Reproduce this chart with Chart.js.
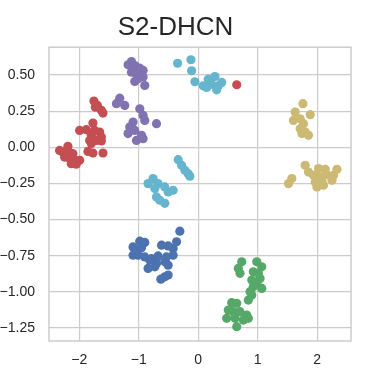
<!DOCTYPE html>
<html>
<head>
<meta charset="utf-8">
<script src="https://cdn.jsdelivr.net/npm/chart.js@4"></script>
<style>
  html, body { margin: 0; padding: 0; background: #fff; }
  #wrap { width: 390px; height: 390px; }
</style>
</head>
<body>
<div id="wrap"><canvas id="chart" width="390" height="390"></canvas></div>
<script>
// points, [x, y]
var bluePts = [
  [-0.309, -0.580], [-0.364, -0.654], [-0.983, -0.649], [-0.899, -0.658], [-1.096, -0.689],
  [-0.954, -0.695], [-0.617, -0.677], [-0.506, -0.682], [-0.422, -0.700], [-1.096, -0.746],
  [-1.012, -0.746], [-0.899, -0.758], [-0.786, -0.769], [-0.675, -0.751], [-0.533, -0.758],
  [-0.422, -0.746], [-0.562, -0.792], [-0.702, -0.803], [-0.843, -0.838], [-0.506, -0.815],
  [-0.730, -0.827], [-0.562, -0.896], [-0.506, -0.884], [-0.629, -0.912], [-0.815, -0.780],
  [-1.012, -0.711]
];
var greenPts = [
  [0.732, -0.792], [0.675, -0.838], [0.703, -0.872], [0.985, -0.792], [1.069, -0.827],
  [0.927, -0.861], [1.012, -0.872], [0.901, -0.918], [1.040, -0.907], [0.985, -0.941],
  [1.069, -0.976], [0.927, -0.965], [0.872, -0.999], [0.843, -1.057], [0.901, -1.022],
  [0.563, -1.075], [0.648, -1.079], [0.506, -1.126], [0.590, -1.137], [0.703, -1.137],
  [0.816, -1.160], [0.479, -1.183], [0.619, -1.183], [0.759, -1.195], [0.843, -1.183],
  [0.648, -1.241]
];
var redPts = [
  [-1.754, 0.320], [-1.696, 0.290], [-1.730, 0.278], [-1.629, 0.256], [-1.602, 0.237],
  [-1.771, 0.168], [-1.995, 0.117], [-1.882, 0.122], [-1.742, 0.117], [-1.658, 0.106],
  [-1.798, 0.083], [-1.629, 0.071], [-1.826, 0.048], [-1.713, 0.048], [-1.629, 0.044],
  [-1.798, 0.026], [-1.855, -0.028], [-1.771, -0.039], [-1.602, -0.039], [-2.192, 0.007],
  [-2.277, -0.032], [-2.192, -0.021], [-2.108, -0.044], [-2.248, -0.067], [-2.164, -0.078],
  [-2.079, -0.090], [-2.135, -0.113], [-2.051, -0.117], [-2.219, -0.055], [-2.332, -0.021],
  [-1.995, -0.090], [0.648, 0.433]
];
var purplePts = [
  [-1.123, 0.594], [-1.180, 0.571], [-1.067, 0.566], [-0.983, 0.548], [-0.927, 0.532],
  [-1.123, 0.520], [-1.039, 0.509], [-0.927, 0.486], [-1.067, 0.456], [-1.012, 0.474],
  [-0.899, 0.428], [-1.320, 0.340], [-1.376, 0.302], [-1.236, 0.290], [-0.983, 0.267],
  [-0.927, 0.221], [-0.899, 0.186], [-0.702, 0.164], [-1.096, 0.175], [-1.152, 0.140],
  [-1.067, 0.117], [-1.180, 0.095], [-0.954, 0.083], [-1.039, 0.048], [-0.927, 0.060]
];
var yellowPts = [
  [1.761, 0.302], [1.631, 0.244], [1.884, 0.226], [1.602, 0.186], [1.715, 0.198],
  [1.771, 0.164], [1.715, 0.129], [1.799, 0.106], [1.855, 0.083], [1.744, 0.095],
  [1.799, -0.124], [1.855, -0.171], [1.939, -0.193], [2.024, -0.147], [2.137, -0.152],
  [2.334, -0.152], [2.277, -0.193], [2.165, -0.189], [2.052, -0.205], [1.968, -0.240],
  [2.081, -0.235], [2.250, -0.228], [1.997, -0.274], [2.108, -0.262], [1.575, -0.216],
  [1.518, -0.251]
];
var cyanPts = [
  [-0.347, 0.582], [-0.123, 0.606], [-0.111, 0.530], [-0.056, 0.454], [0.084, 0.426],
  [0.169, 0.472], [0.282, 0.490], [0.226, 0.437], [0.337, 0.426], [0.395, 0.449],
  [0.310, 0.398], [0.142, 0.414],
  [-0.337, -0.085], [-0.280, -0.124], [-0.224, -0.159], [-0.169, -0.182], [-0.140, -0.200],
  [-0.759, -0.216], [-0.843, -0.251], [-0.675, -0.251], [-0.562, -0.274], [-0.422, -0.297],
  [-0.506, -0.309], [-0.730, -0.285], [-0.702, -0.343], [-0.562, -0.387], [-0.646, -0.366]
];

var xTicks = [-2, -1, 0, 1, 2];
var yTicks = [-1.25, -1.0, -0.75, -0.5, -0.25, 0, 0.25, 0.5];

var groups = [
  { pts: bluePts, color: '#4C72B0' },
  { pts: greenPts, color: '#55A868' },
  { pts: redPts, color: '#C44E52' },
  { pts: purplePts, color: '#8172B2' },
  { pts: yellowPts, color: '#CCB974' },
  { pts: cyanPts, color: '#64B5CD' }
];

var gridColor = '#cccccc';
var textColor = '#262626';
var fontFam = '"Liberation Sans", Arial, sans-serif';

function minus(s) { return s.replace('-', '\u2212'); }

// frame around the plot area (all four spines)
var frame = {
  id: 'frame',
  afterDatasetsDraw: function (chart) {
    var a = chart.chartArea, ctx = chart.ctx;
    ctx.save();
    ctx.strokeStyle = gridColor;
    ctx.lineWidth = 1.5;
    ctx.strokeRect(a.left, a.top, a.right - a.left, a.bottom - a.top);
    ctx.restore();
  }
};

new Chart(document.getElementById('chart'), {
  type: 'scatter',
  data: {
    datasets: groups.map(function (g) {
      return {
        data: g.pts.map(function (p) { return { x: p[0], y: p[1] }; }),
        backgroundColor: g.color,
        borderWidth: 0,
        pointRadius: 4.6,
        pointHoverRadius: 4.6
      };
    })
  },
  options: {
    responsive: false,
    animation: false,
    layout: { padding: { left: 0, right: 39, top: 0, bottom: 0 } },
    plugins: {
      legend: { display: false },
      tooltip: { enabled: false },
      title: {
        display: true,
        text: 'S2-DHCN',
        color: textColor,
        font: { family: fontFam, size: 26, weight: 'normal' },
        padding: { top: 12, bottom: 4 }
      }
    },
    scales: {
      x: {
        type: 'linear',
        min: -2.51,
        max: 2.57,
        afterBuildTicks: function (s) { s.ticks = xTicks.map(function (v) { return { value: v }; }); },
        afterFit: function (s) { s.height = 49; },
        grid: { color: gridColor, lineWidth: 1.2, drawTicks: false },
        border: { display: false },
        ticks: {
          padding: 11,
          color: textColor,
          font: { family: fontFam, size: 14 },
          callback: function (v) { return minus(String(v)); }
        }
      },
      y: {
        type: 'linear',
        min: -1.34,
        max: 0.693,
        afterBuildTicks: function (s) { s.ticks = yTicks.map(function (v) { return { value: v }; }); },
        afterFit: function (s) { s.width = 49; },
        grid: { color: gridColor, lineWidth: 1.2, drawTicks: false },
        border: { display: false },
        ticks: {
          padding: 14,
          color: textColor,
          font: { family: fontFam, size: 14 },
          callback: function (v) { return minus(Number(v).toFixed(2)); }
        }
      }
    }
  },
  plugins: [frame]
});
</script>
</body>
</html>
